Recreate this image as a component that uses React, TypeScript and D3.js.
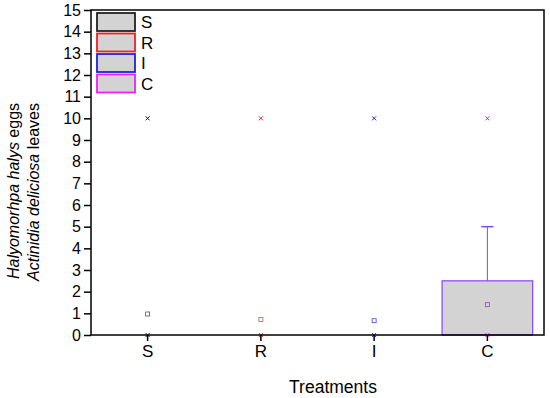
import { useRef, useEffect } from 'react';
import * as d3 from 'd3';

const categories = ['S', 'R', 'I', 'C'];
const colors = ['#222222', '#ee2222', '#2222dd', '#ee22ee'];
const boxStroke = ['#555555', '#aa6655', '#4444dd', '#8844ee'];
const q1 = [0, 0, 0, 0];
const q3 = [0, 0, 0, 2.5];
const medians = [0, 0, 0, 0];
const whiskerHigh = [0, 0, 0, 5];
const means = [0.97, 0.72, 0.66, 1.4];
const maxVals = [10, 10, 10, 10];
const minVals = [0, 0, 0, 0];
const yTicks = d3.range(0, 16);

export default function App() {
  const svgRef = useRef<SVGSVGElement>(null);

  useEffect(() => {
    const w = 550;
    const h = 398;
    const m = { left: 91, right: 6, top: 10, bottom: 63 };
    const svg = d3.select(svgRef.current);
    svg.selectAll('*').remove();
    svg.attr('width', w).attr('height', h).style('display', 'block')
      .style('font-family', 'Liberation Sans, Arial, sans-serif');

    const x = d3.scaleBand().domain(categories).range([m.left, w - m.right]);
    const y = d3.scaleLinear().domain([0, 15]).range([h - m.bottom, m.top]);
    const cx = (i: number) => (x(categories[i]) as number) + x.bandwidth() / 2;

    // boxes, whiskers, means, min/max
    const g = svg.append('g');
    categories.forEach((c, i) => {
      const bw = x.bandwidth() * 0.8;
      if (q3[i] > q1[i]) {
        g.append('line')
          .attr('x1', cx(i)).attr('x2', cx(i))
          .attr('y1', y(q3[i])).attr('y2', y(whiskerHigh[i]))
          .attr('stroke', boxStroke[i]).attr('stroke-width', 1);
        g.append('line')
          .attr('x1', cx(i) - 6).attr('x2', cx(i) + 6)
          .attr('y1', y(whiskerHigh[i])).attr('y2', y(whiskerHigh[i]))
          .attr('stroke', boxStroke[i]).attr('stroke-width', 1.5);
        g.append('rect')
          .attr('x', cx(i) - bw / 2).attr('width', bw)
          .attr('y', y(q3[i])).attr('height', y(q1[i]) - y(q3[i]))
          .attr('fill', '#d3d3d3').attr('stroke', boxStroke[i]).attr('stroke-width', 1.2);
        g.append('line')
          .attr('x1', cx(i) - bw / 2).attr('x2', cx(i) + bw / 2)
          .attr('y1', y(medians[i])).attr('y2', y(medians[i]))
          .attr('stroke', boxStroke[i]);
      }
      g.append('rect')
        .attr('x', cx(i) - 2).attr('y', y(means[i]) - 2)
        .attr('width', 4).attr('height', 4)
        .attr('fill', 'none').attr('stroke', boxStroke[i]).attr('stroke-width', 0.8);
      [maxVals[i], minVals[i]].forEach((v) => {
        const yy = y(v);
        g.append('path')
          .attr('d', `M${cx(i) - 2},${yy - 2}L${cx(i) + 2},${yy + 2}M${cx(i) - 2},${yy + 2}L${cx(i) + 2},${yy - 2}`)
          .attr('stroke', colors[i]).attr('stroke-width', 1);
      });
    });

    // frame
    svg.append('rect')
      .attr('x', m.left).attr('y', m.top)
      .attr('width', w - m.left - m.right).attr('height', h - m.top - m.bottom)
      .attr('fill', 'none').attr('stroke', '#000').attr('stroke-width', 1.5);

    // y axis
    const yAxis = svg.append('g').attr('transform', `translate(${m.left},0)`)
      .call(d3.axisLeft(y).tickValues(yTicks).tickSize(7).tickPadding(3));
    yAxis.select('.domain').remove();
    yAxis.selectAll('line').attr('stroke-width', 1.5);
    yAxis.selectAll('text').attr('font-size', 16).attr('fill', '#000')
      .attr('font-family', 'Liberation Sans, Arial, sans-serif');

    // x axis
    const xAxis = svg.append('g').attr('transform', `translate(0,${h - m.bottom})`)
      .call(d3.axisBottom(x).tickSize(6).tickPadding(4));
    xAxis.select('.domain').remove();
    xAxis.selectAll('line').attr('stroke-width', 1.5);
    xAxis.selectAll('text').attr('font-size', 17).attr('fill', '#000')
      .attr('font-family', 'Liberation Sans, Arial, sans-serif');

    svg.append('text')
      .attr('x', 333).attr('y', 393)
      .attr('text-anchor', 'middle').attr('font-size', 17.5)
      .text('Treatments');

    // y title
    const t1 = svg.append('text')
      .attr('transform', 'translate(19,191) rotate(-90)')
      .attr('text-anchor', 'middle').attr('font-size', 16);
    t1.append('tspan').attr('font-style', 'italic').text('Halyomorhpa halys');
    t1.append('tspan').text(' eggs');
    const t2 = svg.append('text')
      .attr('transform', 'translate(39,192) rotate(-90)')
      .attr('text-anchor', 'middle').attr('font-size', 16);
    t2.append('tspan').attr('font-style', 'italic').text('Actinidia deliciosa');
    t2.append('tspan').text(' leaves');

    // legend
    const lg = svg.append('g');
    categories.forEach((c, i) => {
      const yy = 13 + i * 20.5;
      lg.append('rect')
        .attr('x', 97).attr('y', yy).attr('width', 38).attr('height', 18)
        .attr('fill', '#d3d3d3').attr('stroke', colors[i]).attr('stroke-width', 1.8);
      lg.append('text')
        .attr('x', 141).attr('y', yy + 15)
        .attr('font-size', 17).text(c);
    });
  }, []);

  return <svg ref={svgRef} style={{ position: 'absolute', left: 0, top: 0 }}></svg>;
}
